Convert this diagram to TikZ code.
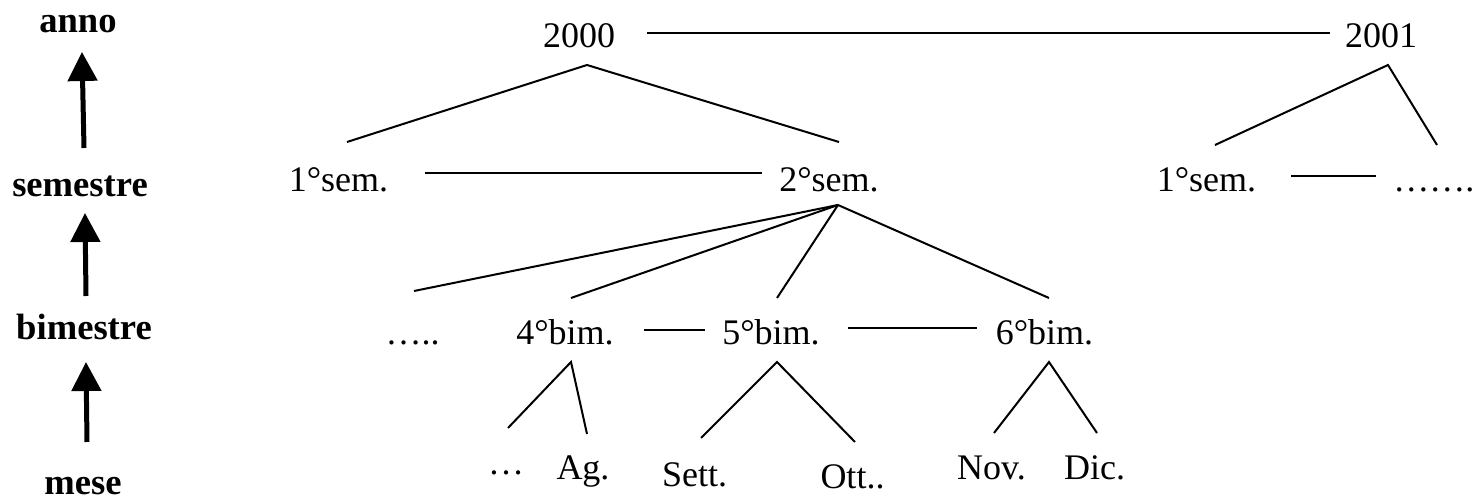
\documentclass[tikz,border=0pt]{standalone}
\usepackage{fontspec}
\setmainfont{Liberation Serif}
\usetikzlibrary{arrows.meta}
\begin{document}
\begin{tikzpicture}[x=0.5pt,y=-0.5pt,
  lab/.style={anchor=base,inner sep=0pt,font=\fontsize{18}{20}\selectfont},
  lvl/.style={anchor=base,inner sep=0pt,font=\fontsize{18.3}{20}\selectfont\bfseries},
  edge/.style={line width=1pt},
  hline/.style={line width=1.1pt},
  up/.style={line width=2.5pt,-{Triangle[length=14.5pt,width=14.5pt]}}]
\useasboundingbox (0,0) rectangle (1474,501);

% level labels
\node[lvl] (anno) at (78,33) {anno};
\node[lvl] (semestre) at (80,197) {semestre};
\node[lvl] (bimestre) at (84,340) {bimestre};
\node[lvl] (mese) at (83,495) {mese};

% level arrows
\coordinate (a1s) at (84,148); \coordinate (a1e) at (82,52);
\coordinate (a2s) at (86,296); \coordinate (a2e) at (85,213);
\coordinate (a3s) at (87,442); \coordinate (a3e) at (86,362);
\draw[up] (a1s) -- (a1e);
\draw[up] (a2s) -- (a2e);
\draw[up] (a3s) -- (a3e);

% nodes
\node[lab] (y2000) at (579,48) {2000};
\node[lab] (y2001) at (1381,48) {2001};
\node[lab] (s1) at (338.5,192) {1°sem.};
\node[lab] (s2) at (829,192) {2°sem.};
\node[lab] (s1b) at (1206.5,192) {1°sem.};
\node[lab,anchor=base west] (sdots) at (1393,192) {…….};
\node[lab] (bdots) at (412.5,345) {…..};
\node[lab] (b4) at (565,345) {4°bim.};
\node[lab] (b5) at (771,345) {5°bim.};
\node[lab] (b6) at (1044.5,345) {6°bim.};
\node[lab] (mdots) at (506,475) {…};
\node[lab] (mag) at (583,480) {Ag.};
\node[lab] (mset) at (694.5,487) {Sett.};
\node[lab] (mott) at (852.5,489) {Ott..};
\node[lab] (mnov) at (991.5,480) {Nov.};
\node[lab] (mdic) at (1094.5,480) {Dic.};

% connector ends
\coordinate (y2000r) at (647,33);  \coordinate (y2001l) at (1330,33);
\coordinate (s1r) at (425,173);    \coordinate (s2l) at (762,173);
\coordinate (s1br) at (1291,176);  \coordinate (sdotsl) at (1376,176);
\coordinate (b4r) at (644,330);    \coordinate (b5l) at (705,330);
\coordinate (b5r) at (848,328);    \coordinate (b6l) at (977,328);

\coordinate (y2000b) at (587,65);
\coordinate (s1t) at (347,142);    \coordinate (s2t) at (839,142);
\coordinate (y2001b) at (1388,65);
\coordinate (s1bt) at (1215,145);  \coordinate (sdotst) at (1437,145);
\coordinate (s2b) at (838,205);
\coordinate (bdotst) at (414,291); \coordinate (b4t) at (571,298);
\coordinate (b5t) at (777,298);    \coordinate (b6t) at (1049,298);
\coordinate (b4b) at (571,362);
\coordinate (mdotst) at (508,428); \coordinate (magt) at (587,434);
\coordinate (b5b) at (777,362);
\coordinate (msett) at (701,438);  \coordinate (mottt) at (855,442);
\coordinate (b6b) at (1049,362);
\coordinate (mnovt) at (994,433);  \coordinate (mdict) at (1097,433);

% horizontal links
\draw[hline] (y2000r) -- (y2001l);
\draw[hline] (s1r) -- (s2l);
\draw[hline] (s1br) -- (sdotsl);
\draw[hline] (b4r) -- (b5l);
\draw[hline] (b5r) -- (b6l);

% tree edges
\draw[edge] (s1t) -- (y2000b) -- (s2t);
\draw[edge] (s1bt) -- (y2001b) -- (sdotst);
\draw[edge] (s2b) -- (bdotst);
\draw[edge] (s2b) -- (b4t);
\draw[edge] (s2b) -- (b5t);
\draw[edge] (s2b) -- (b6t);
\draw[edge] (mdotst) -- (b4b) -- (magt);
\draw[edge] (msett) -- (b5b) -- (mottt);
\draw[edge] (mnovt) -- (b6b) -- (mdict);
\end{tikzpicture}
\end{document}
